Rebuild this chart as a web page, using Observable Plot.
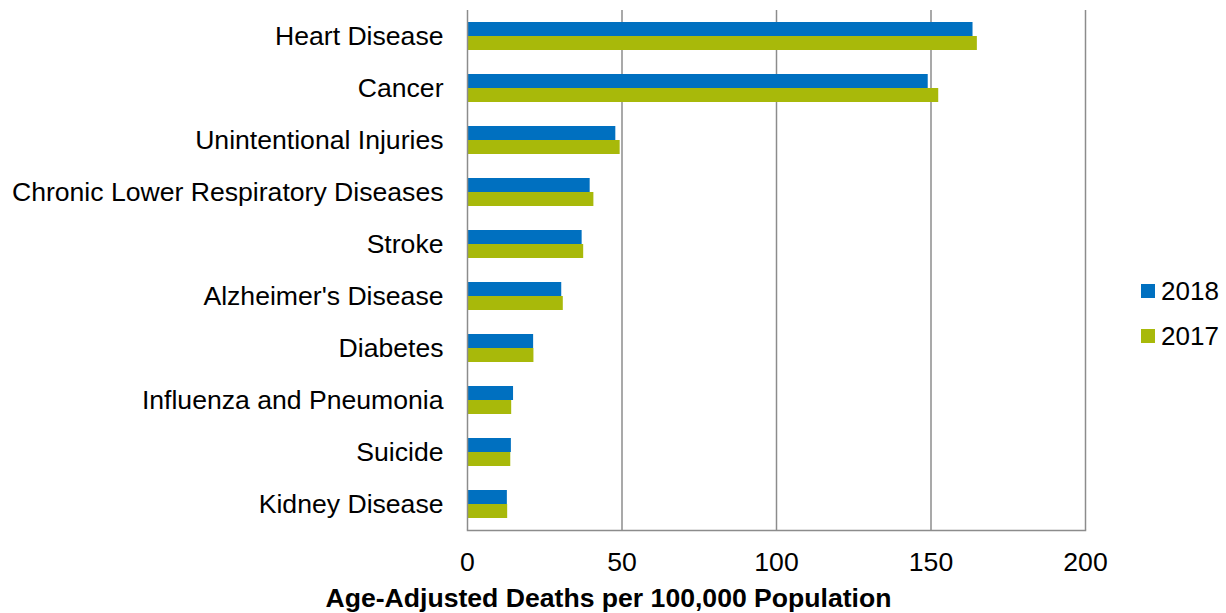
<!DOCTYPE html>
<html>
<head>
<meta charset="utf-8">
<script src="https://cdn.jsdelivr.net/npm/d3@7"></script>
<script src="https://cdn.jsdelivr.net/npm/@observablehq/plot@0.6"></script>
<style>
  html, body { margin: 0; padding: 0; background: #fff; }
  #wrap { position: relative; width: 1226px; height: 613px; font-family: "Liberation Sans", Arial, sans-serif; }
  #legend { position: absolute; left: 1141px; top: 276px; }
  .item { display: flex; align-items: center; height: 30px; margin-bottom: 15px; font-size: 26px; color: #000; }
  .sw { width: 14px; height: 14px; margin-right: 6px; }
  #xtitle { position: absolute; left: 0; width: 1217px; top: 583px; text-align: center; font-weight: bold; font-size: 26.6px; line-height: 30px; color: #000; }
</style>
</head>
<body>
<div id="wrap"></div>
<script>
const causes = ["Heart Disease", "Cancer", "Unintentional Injuries", "Chronic Lower Respiratory Diseases", "Stroke", "Alzheimer's Disease", "Diabetes", "Influenza and Pneumonia", "Suicide", "Kidney Disease"];
const rate2018 = [163.6, 149.1, 48.0, 39.7, 37.1, 30.5, 21.4, 14.9, 14.2, 12.9];
const rate2017 = [165.0, 152.5, 49.4, 40.9, 37.6, 31.0, 21.5, 14.3, 14.0, 13.0];
const years = ["2018", "2017"];
const colors = ["#0070C0", "#A8B90A"];
const xTicks = [0, 50, 100, 150, 200];
const xTitle = "Age-Adjusted Deaths per 100,000 Population";

const rows = [];
causes.forEach((c, i) => {
  rows.push({cause: c, year: years[0], value: rate2018[i]});
  rows.push({cause: c, year: years[1], value: rate2017[i]});
});

const grid = "#8c8c8c";
const chart = Plot.plot({
  width: 1226,
  height: 613,
  marginLeft: 467,
  marginRight: 141,
  marginTop: 9,
  marginBottom: 83,
  style: {fontFamily: "'Liberation Sans', Arial, sans-serif", fontSize: "26.6px", color: "#000", background: "transparent"},
  x: {domain: [0, 200], ticks: xTicks, tickSize: 0, tickPadding: 22, label: null},
  y: {domain: years, axis: null, paddingInner: 0, paddingOuter: 0.74},
  fy: {domain: causes, padding: 0, label: null, axis: "left", tickSize: 0, tickPadding: 24},
  color: {domain: years, range: colors},
  marks: [
    Plot.ruleX(xTicks.slice(1), {stroke: grid, strokeWidth: 1.5}),
    Plot.barX(rows, {x: "value", y: "year", fy: "cause", fill: "year"}),
    Plot.ruleX([0], {stroke: grid, strokeWidth: 1.5}),
    Plot.frame({anchor: "bottom", facet: "super", stroke: grid, strokeWidth: 1.5})
  ]
});

const wrap = document.getElementById("wrap");
wrap.appendChild(chart);

const legend = document.createElement("div");
legend.id = "legend";
years.forEach((y, i) => {
  const item = document.createElement("div");
  item.className = "item";
  const sw = document.createElement("div");
  sw.className = "sw";
  sw.style.background = colors[i];
  const t = document.createElement("span");
  t.textContent = y;
  item.appendChild(sw);
  item.appendChild(t);
  legend.appendChild(item);
});
wrap.appendChild(legend);

const title = document.createElement("div");
title.id = "xtitle";
title.textContent = xTitle;
wrap.appendChild(title);
</script>
</body>
</html>
